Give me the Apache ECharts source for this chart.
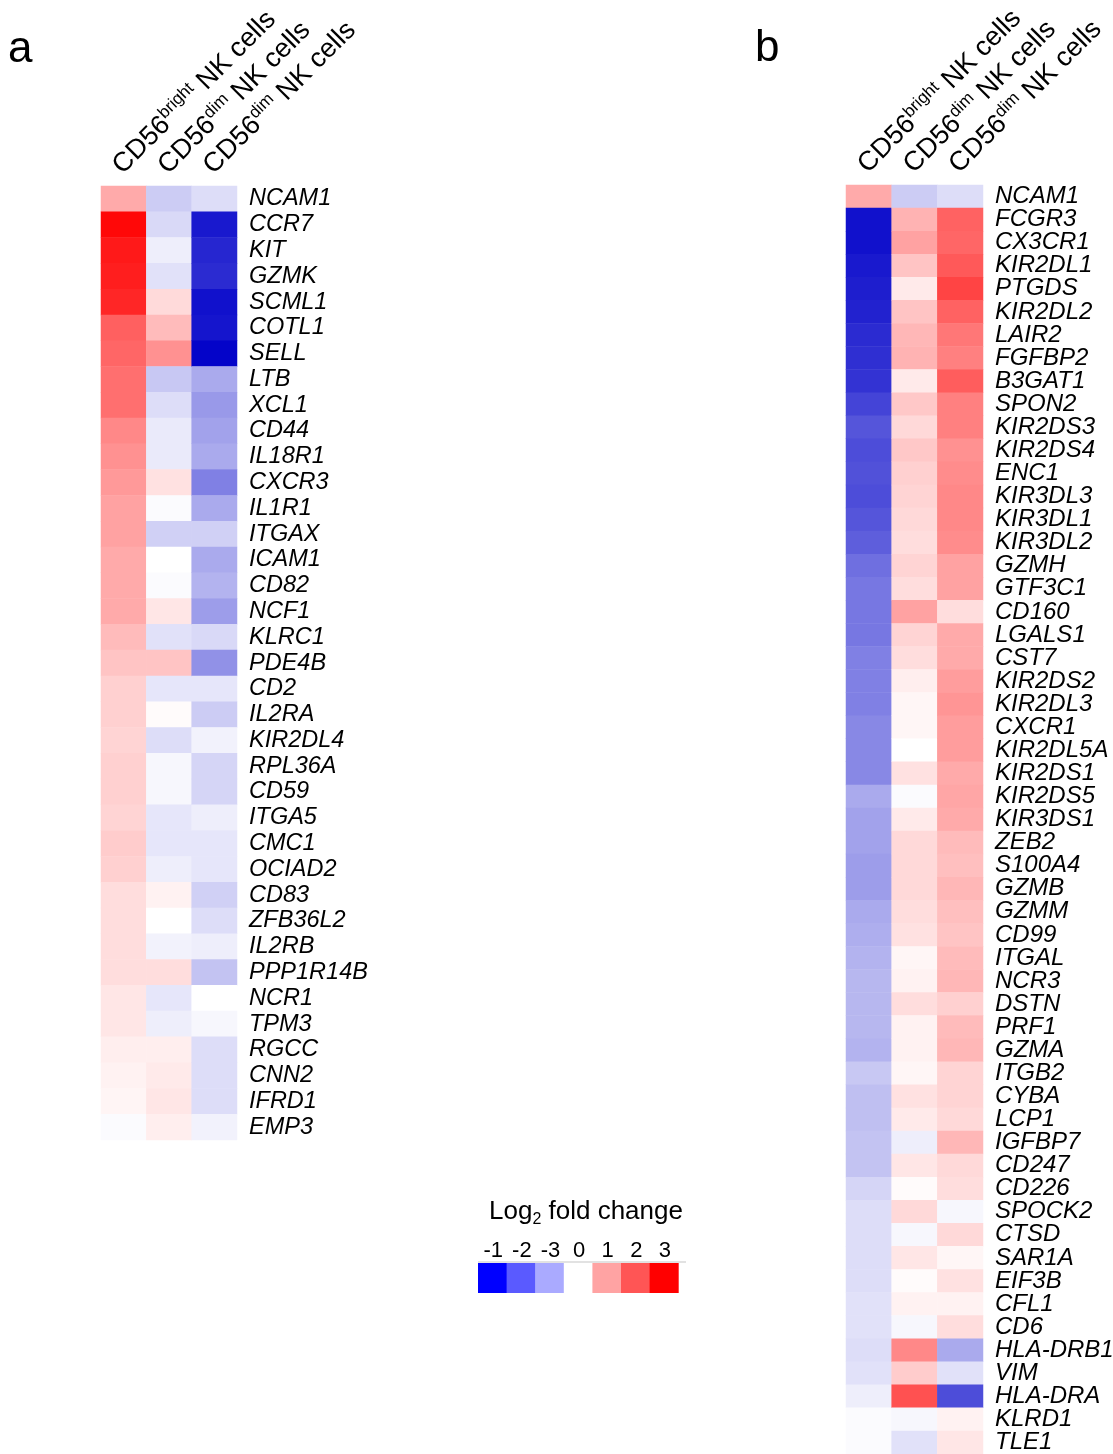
<!DOCTYPE html>
<html>
<head>
<meta charset="utf-8">
<script src="https://cdn.jsdelivr.net/npm/echarts@6/dist/echarts.min.js"></script>
<style>
html,body{margin:0;padding:0;background:#fff;}
#chart{width:1113px;height:1454px;}
</style>
</head>
<body>
<div id="chart"></div>
<script>
// ---- data ----
const cellTypes = ['CD56bright NK cells', 'CD56dim NK cells', 'CD56dim NK cells'];

const genesA = ['NCAM1','CCR7','KIT','GZMK','SCML1','COTL1','SELL','LTB','XCL1','CD44','IL18R1','CXCR3','IL1R1','ITGAX','ICAM1','CD82','NCF1','KLRC1','PDE4B','CD2','IL2RA','KIR2DL4','RPL36A','CD59','ITGA5','CMC1','OCIAD2','CD83','ZFB36L2','IL2RB','PPP1R14B','NCR1','TPM3','RGCC','CNN2','IFRD1','EMP3'];
const aBright = [1.0,2.9,2.7,2.65,2.55,1.87,1.8,1.7,1.7,1.4,1.3,1.2,1.1,1.1,1.0,1.0,1.0,0.8,0.7,0.55,0.55,0.5,0.55,0.55,0.5,0.6,0.55,0.4,0.4,0.4,0.4,0.3,0.3,0.2,0.15,0.12,-0.05];
const aDim1 = [-0.6,-0.45,-0.2,-0.35,0.44,0.8,1.3,-0.65,-0.4,-0.25,-0.25,0.35,-0.05,-0.55,0,-0.05,0.3,-0.35,0.7,-0.3,0.05,-0.4,-0.1,-0.1,-0.3,-0.3,-0.2,0.15,0,-0.15,0.4,-0.3,-0.2,0.2,0.25,0.3,0.2];
const aDim2 = [-0.4,-2.7,-2.55,-2.5,-2.8,-2.75,-2.95,-1.0,-1.2,-1.1,-1.0,-1.5,-1.0,-0.55,-1.0,-0.9,-1.15,-0.45,-1.3,-0.3,-0.6,-0.15,-0.5,-0.5,-0.2,-0.3,-0.3,-0.55,-0.4,-0.2,-0.7,0,-0.1,-0.4,-0.4,-0.4,-0.15];

const genesB = ['NCAM1','FCGR3','CX3CR1','KIR2DL1','PTGDS','KIR2DL2','LAIR2','FGFBP2','B3GAT1','SPON2','KIR2DS3','KIR2DS4','ENC1','KIR3DL3','KIR3DL1','KIR3DL2','GZMH','GTF3C1','CD160','LGALS1','CST7','KIR2DS2','KIR2DL3','CXCR1','KIR2DL5A','KIR2DS1','KIR2DS5','KIR3DS1','ZEB2','S100A4','GZMB','GZMM','CD99','ITGAL','NCR3','DSTN','PRF1','GZMA','ITGB2','CYBA','LCP1','IGFBP7','CD247','CD226','SPOCK2','CTSD','SAR1A','EIF3B','CFL1','CD6','HLA-DRB1','VIM','HLA-DRA','KLRD1','TLE1'];
const bBright = [1.0,-2.8,-2.8,-2.7,-2.65,-2.6,-2.5,-2.45,-2.4,-2.2,-2.0,-2.1,-2.05,-2.1,-2.0,-1.9,-1.7,-1.6,-1.6,-1.6,-1.5,-1.5,-1.5,-1.4,-1.4,-1.4,-1.0,-1.1,-1.1,-1.15,-1.15,-1.0,-0.95,-0.9,-0.85,-0.85,-0.85,-0.9,-0.65,-0.75,-0.75,-0.7,-0.7,-0.5,-0.4,-0.4,-0.4,-0.4,-0.35,-0.35,-0.4,-0.35,-0.2,-0.05,-0.05];
const bDim1 = [-0.6,0.9,1.1,0.7,0.25,0.7,0.85,0.9,0.25,0.65,0.45,0.65,0.55,0.5,0.45,0.4,0.5,0.4,1.1,0.5,0.4,0.2,0.1,0.1,0,0.35,-0.05,0.25,0.45,0.45,0.45,0.4,0.35,0.1,0.15,0.4,0.15,0.15,0.1,0.35,0.25,-0.2,0.3,0.05,0.45,-0.1,0.3,0.05,0.15,-0.1,1.4,0.6,2.05,-0.1,-0.35];
const bDim2 = [-0.4,1.85,1.8,1.95,2.2,1.85,1.6,1.5,1.9,1.5,1.5,1.3,1.35,1.4,1.4,1.35,1.1,1.1,0.4,1.0,1.0,1.15,1.25,1.15,1.15,1.0,1.05,1.0,0.8,0.75,0.85,0.75,0.7,0.8,0.85,0.55,0.8,0.85,0.5,0.5,0.45,0.85,0.45,0.4,-0.1,0.45,0.1,0.35,0.15,0.4,-1.0,-0.35,-2.1,0.15,0.3];

const legendLabels = ['-1','-2','-3','0','1','2','3'];

// ---- build ----
function buildData(cols) {
  const out = [];
  cols.forEach((arr, j) => arr.forEach((v, i) => out.push([j, i, v])));
  return out;
}
const dataA = buildData([aBright, aDim1, aDim2]);
const dataB = buildData([bBright, bDim1, bDim2]);

function headerFmt(v) {
  const m = v.match(/^CD56(\w+) (.*)$/);
  return '{m|CD56}{s|' + m[1] + '}{m| ' + m[2] + '}';
}

const FONT = '"Liberation Sans", Arial, sans-serif';

function xAxisFor(gi) {
  return {
    type: 'category', gridIndex: gi, position: 'top', data: cellTypes,
    axisLine: {show: false}, axisTick: {show: false}, splitLine: {show: false},
    axisLabel: {
      interval: 0, rotate: -45, margin: 10, padding: [0, 0, 18, 0], formatter: headerFmt,
      rich: {
        m: {fontSize: 27, fontFamily: FONT, color: '#000', lineHeight: 31},
        s: {fontSize: 17, fontFamily: FONT, color: '#000', verticalAlign: 'top', lineHeight: 19}
      }
    }
  };
}
function yAxisFor(gi, genes, fs) {
  return {
    type: 'category', gridIndex: gi, position: 'right', inverse: true, data: genes,
    axisLine: {show: false}, axisTick: {show: false}, splitLine: {show: false},
    axisLabel: {interval: 0, margin: 12, fontSize: fs, fontStyle: 'italic', fontFamily: FONT, color: '#000'}
  };
}

const legendColors = ['#0000ff','#5a5aff','#aaaaff','#ffffff','#ffa3a3','#ff5555','#ff0000'];
const lgX = 478, lgY = 1263, lgW = 28.6, lgH = 30;
const graphics = [
  {type: 'text', left: 8, top: 28, style: {text: 'a', fontSize: 44, fontFamily: FONT, fill: '#000'}},
  {type: 'text', left: 755, top: 27, style: {text: 'b', fontSize: 44, fontFamily: FONT, fill: '#000'}},
  {type: 'text', left: 489, top: 1199, style: {
    text: '{a|Log}{s|2}{a| fold change}',
    rich: {a: {fontSize: 26, fontFamily: FONT, fill: '#000', lineHeight: 32},
           s: {fontSize: 16, fontFamily: FONT, fill: '#000', verticalAlign: 'bottom', lineHeight: 22}}
  }},
  {type: 'line', shape: {x1: lgX, y1: lgY - 1, x2: 686, y2: lgY - 1}, style: {stroke: '#d8d8d8', lineWidth: 1.5}}
];
legendColors.forEach((c, i) => {
  graphics.push({type: 'rect', shape: {x: lgX + i * lgW, y: lgY, width: lgW + 0.5, height: lgH}, style: {fill: c}});
});
legendLabels.forEach((t, i) => {
  graphics.push({type: 'text', x: lgX + i * lgW + lgW / 2 + 1, y: 1251,
    style: {text: t, fontSize: 22, fontFamily: FONT, fill: '#000', align: 'center', verticalAlign: 'middle'}});
});

const chart = echarts.init(document.getElementById('chart'), null, {renderer: 'canvas'});
chart.setOption({
  backgroundColor: '#fff',
  animation: false,
  grid: [
    {left: 101, top: 186, width: 136, height: 954, outerBoundsMode: 'none'},
    {left: 846, top: 185, width: 137, height: 1269, outerBoundsMode: 'none'}
  ],
  xAxis: [xAxisFor(0), xAxisFor(1)],
  yAxis: [yAxisFor(0, genesA, 23.5), yAxisFor(1, genesB, 24)],
  visualMap: {
    type: 'continuous', show: false, min: -3, max: 3, seriesIndex: [0, 1],
    inRange: {color: ['#0000c8', '#ffffff', '#ff0000']}
  },
  series: [
    {type: 'heatmap', xAxisIndex: 0, yAxisIndex: 0, data: dataA, itemStyle: {borderWidth: 0}, emphasis: {disabled: true}},
    {type: 'heatmap', xAxisIndex: 1, yAxisIndex: 1, data: dataB, itemStyle: {borderWidth: 0}, emphasis: {disabled: true}}
  ],
  graphic: graphics
});
</script>
</body>
</html>
